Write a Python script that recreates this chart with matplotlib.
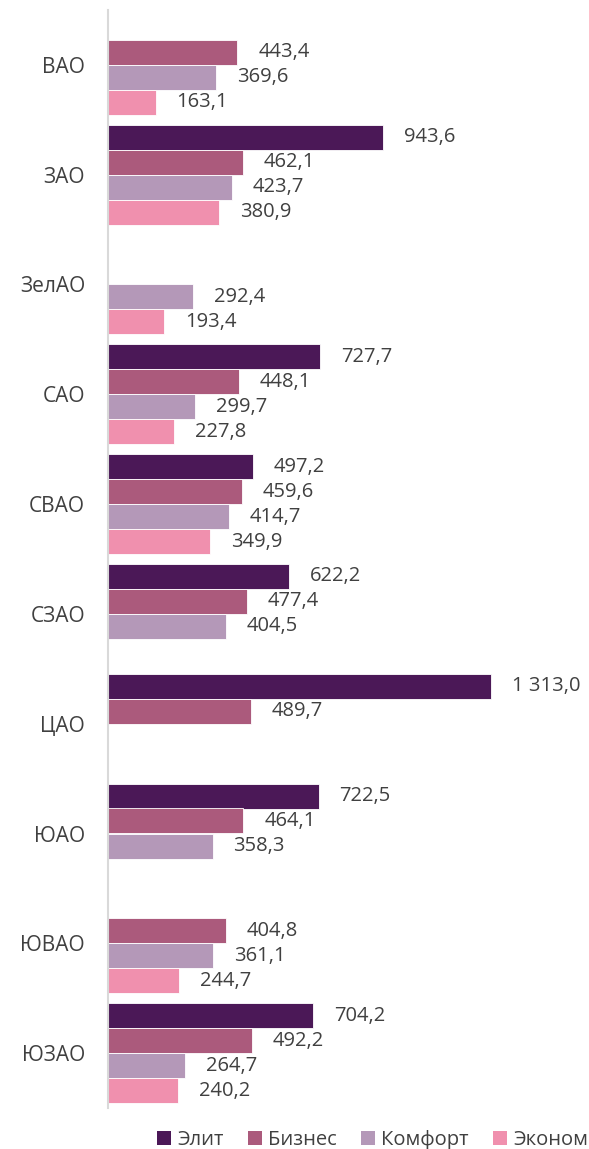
import matplotlib
matplotlib.use("Agg")
import matplotlib.pyplot as plt
import numpy as np
from matplotlib.patches import Patch

plt.rcParams['font.family'] = ['Open Sans', 'DejaVu Sans']

categories = ["ВАО", "ЗАО", "ЗелАО", "САО", "СВАО", "СЗАО", "ЦАО", "ЮАО", "ЮВАО", "ЮЗАО"]
series_names = ["Элит", "Бизнес", "Комфорт", "Эконом"]
elit    = [None, 943.6, None, 727.7, 497.2, 622.2, 1313.0, 722.5, None, 704.2]
biznes  = [443.4, 462.1, None, 448.1, 459.6, 477.4, 489.7, 464.1, 404.8, 492.2]
komfort = [369.6, 423.7, 292.4, 299.7, 414.7, 404.5, None, 358.3, 361.1, 264.7]
ekonom  = [163.1, 380.9, 193.4, 227.8, 349.9, None, None, None, 244.7, 240.2]
colors = ["#4B1857", "#AB5A7C", "#B498B8", "#F090AE"]

W, H = 589, 1149
fig = plt.figure(figsize=(W/100, H/100), dpi=100)
ax = fig.add_axes([108/W, 41/H, (W-108)/W, 1098/H])

h = 25/109.8
data = [elit, biznes, komfort, ekonom]
ypos = np.arange(len(categories))
txtcol = "#404040"

def fmt(v):
    s = f"{v:,.1f}".replace(",", " ").replace(".", ",")
    return s

for j, (vals, col) in enumerate(zip(data, colors)):
    for i, v in enumerate(vals):
        if v is None:
            continue
        y = ypos[i] + (j - 1.5) * h
        ax.barh(y, v, height=h, color=col, edgecolor="white", linewidth=0.6)
        ax.annotate(fmt(v), xy=(v, y), xytext=(15, 0), textcoords="offset points",
                    va="center", ha="left", fontsize=14.5, color=txtcol)

ax.set_xlim(0, 481/0.2917)
ax.set_ylim(len(categories) - 0.5, -0.5)
ax.set_yticks(ypos)
ax.set_yticklabels(categories, fontsize=15, color=txtcol)
ax.tick_params(axis="y", length=0, pad=16.5)
ax.set_xticks([])
for s in ["top", "right", "bottom"]:
    ax.spines[s].set_visible(False)
ax.spines["left"].set_color("#D9D9D9")
ax.spines["left"].set_linewidth(1.5)

handles = [Patch(facecolor=c, edgecolor="none") for c in colors]
fig.legend(handles, series_names, loc="center right", bbox_to_anchor=(1.0 + 7/W, 9/H),
           ncol=4, frameon=False, fontsize=14.5, handlelength=0.7, handleheight=0.7,
           handletextpad=0.3, columnspacing=1.2, labelcolor=txtcol, borderaxespad=0)

fig.savefig("out.png", dpi=100)
